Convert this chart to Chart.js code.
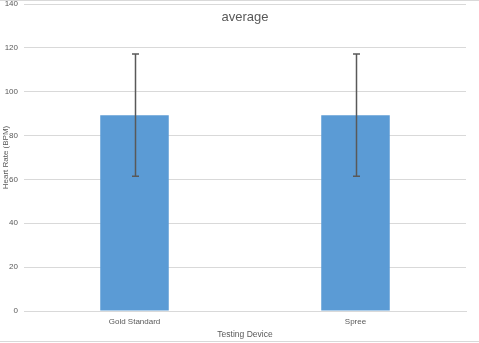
<!DOCTYPE html>
<html>
<head>
<meta charset="utf-8">
<script src="https://cdn.jsdelivr.net/npm/chart.js@4"></script>
<style>
  html, body { margin: 0; padding: 0; background: #ffffff; }
  #wrap { width: 479px; height: 343px; }
</style>
</head>
<body>
<div id="wrap"><canvas id="chart" width="479" height="343"></canvas></div>
<script>
const devices = ['Gold Standard', 'Spree'];
const heartRates = [89.3, 89.3];
const errorAmounts = [27.9, 27.9];
const yTicks = [0, 20, 40, 60, 80, 100, 120, 140];

const textColor = '#595959';
const gridColor = '#d9d9d9';
const fontFamily = '"Liberation Sans", Arial, sans-serif';

// error bars + overlay title, drawn from the scales
const errorBarsPlugin = {
    id: 'errorBars',
    afterDatasetsDraw(chart) {
        const ctx = chart.ctx;
        const x = chart.scales.x;
        const y = chart.scales.y;
        ctx.save();
        ctx.strokeStyle = '#595959';
        ctx.lineWidth = 1.5;
        devices.forEach((d, i) => {
            const px = Math.round(x.getPixelForValue(i)) + 0.5;
            const top = y.getPixelForValue(heartRates[i] + errorAmounts[i]);
            const bottom = y.getPixelForValue(heartRates[i] - errorAmounts[i]);
            ctx.beginPath();
            ctx.moveTo(px, top);
            ctx.lineTo(px, bottom);
            ctx.moveTo(px - 3.5, top);
            ctx.lineTo(px + 3.5, top);
            ctx.moveTo(px - 3.5, bottom);
            ctx.lineTo(px + 3.5, bottom);
            ctx.stroke();
        });
        ctx.restore();
    },
    afterDraw(chart) {
        const ctx = chart.ctx;
        const area = chart.chartArea;
        ctx.save();
        ctx.fillStyle = textColor;
        ctx.font = '13px ' + fontFamily;
        ctx.textAlign = 'center';
        ctx.textBaseline = 'middle';
        ctx.fillText('average', (area.left + area.right) / 2, 17);
        // chart frame lines
        ctx.strokeStyle = gridColor;
        ctx.lineWidth = 1;
        ctx.beginPath();
        ctx.moveTo(0, 0.5);
        ctx.lineTo(chart.width, 0.5);
        ctx.moveTo(0, 341.5);
        ctx.lineTo(chart.width, 341.5);
        ctx.stroke();
        ctx.restore();
    }
};

const ctx = document.getElementById('chart').getContext('2d');
const chart = new Chart(ctx, {
    type: 'bar',
    data: {
        labels: devices,
        datasets: [{
            label: 'average',
            data: heartRates,
            backgroundColor: '#5b9bd5',
            borderWidth: 0,
            barPercentage: 0.31,
            categoryPercentage: 1.0
        }]
    },
    options: {
        responsive: false,
        animation: false,
        layout: {
            padding: { left: 0, right: 13, top: 4, bottom: 0 }
        },
        scales: {
            y: {
                min: 0,
                max: 140,
                afterBuildTicks: (scale) => {
                    scale.ticks = yTicks.map(v => ({ value: v }));
                },
                afterFit: (scale) => {
                    scale.width = 24;
                    scale.paddingTop = 0;
                    scale.paddingBottom = 0;
                },
                ticks: {
                    color: textColor,
                    font: { family: fontFamily, size: 8 },
                    padding: 6
                },
                grid: {
                    color: gridColor,
                    drawTicks: false
                },
                border: { display: false },
                title: {
                    display: true,
                    text: 'Heart Rate (BPM)',
                    color: textColor,
                    font: { family: fontFamily, size: 8 },
                    padding: { top: 1, bottom: 0 }
                }
            },
            x: {
                afterFit: (scale) => {
                    scale.height = 32;
                    scale.paddingLeft = 0;
                    scale.paddingRight = 0;
                },
                ticks: {
                    color: textColor,
                    font: { family: fontFamily, size: 8 },
                    padding: 6
                },
                grid: {
                    display: false,
                    drawTicks: false
                },
                border: { display: true, color: gridColor },
                title: {
                    display: true,
                    text: 'Testing Device',
                    color: textColor,
                    font: { family: fontFamily, size: 8.5 },
                    padding: { top: 2, bottom: 3 }
                }
            }
        },
        plugins: {
            legend: { display: false },
            tooltip: { enabled: false }
        }
    },
    plugins: [errorBarsPlugin]
});
</script>
</body>
</html>
